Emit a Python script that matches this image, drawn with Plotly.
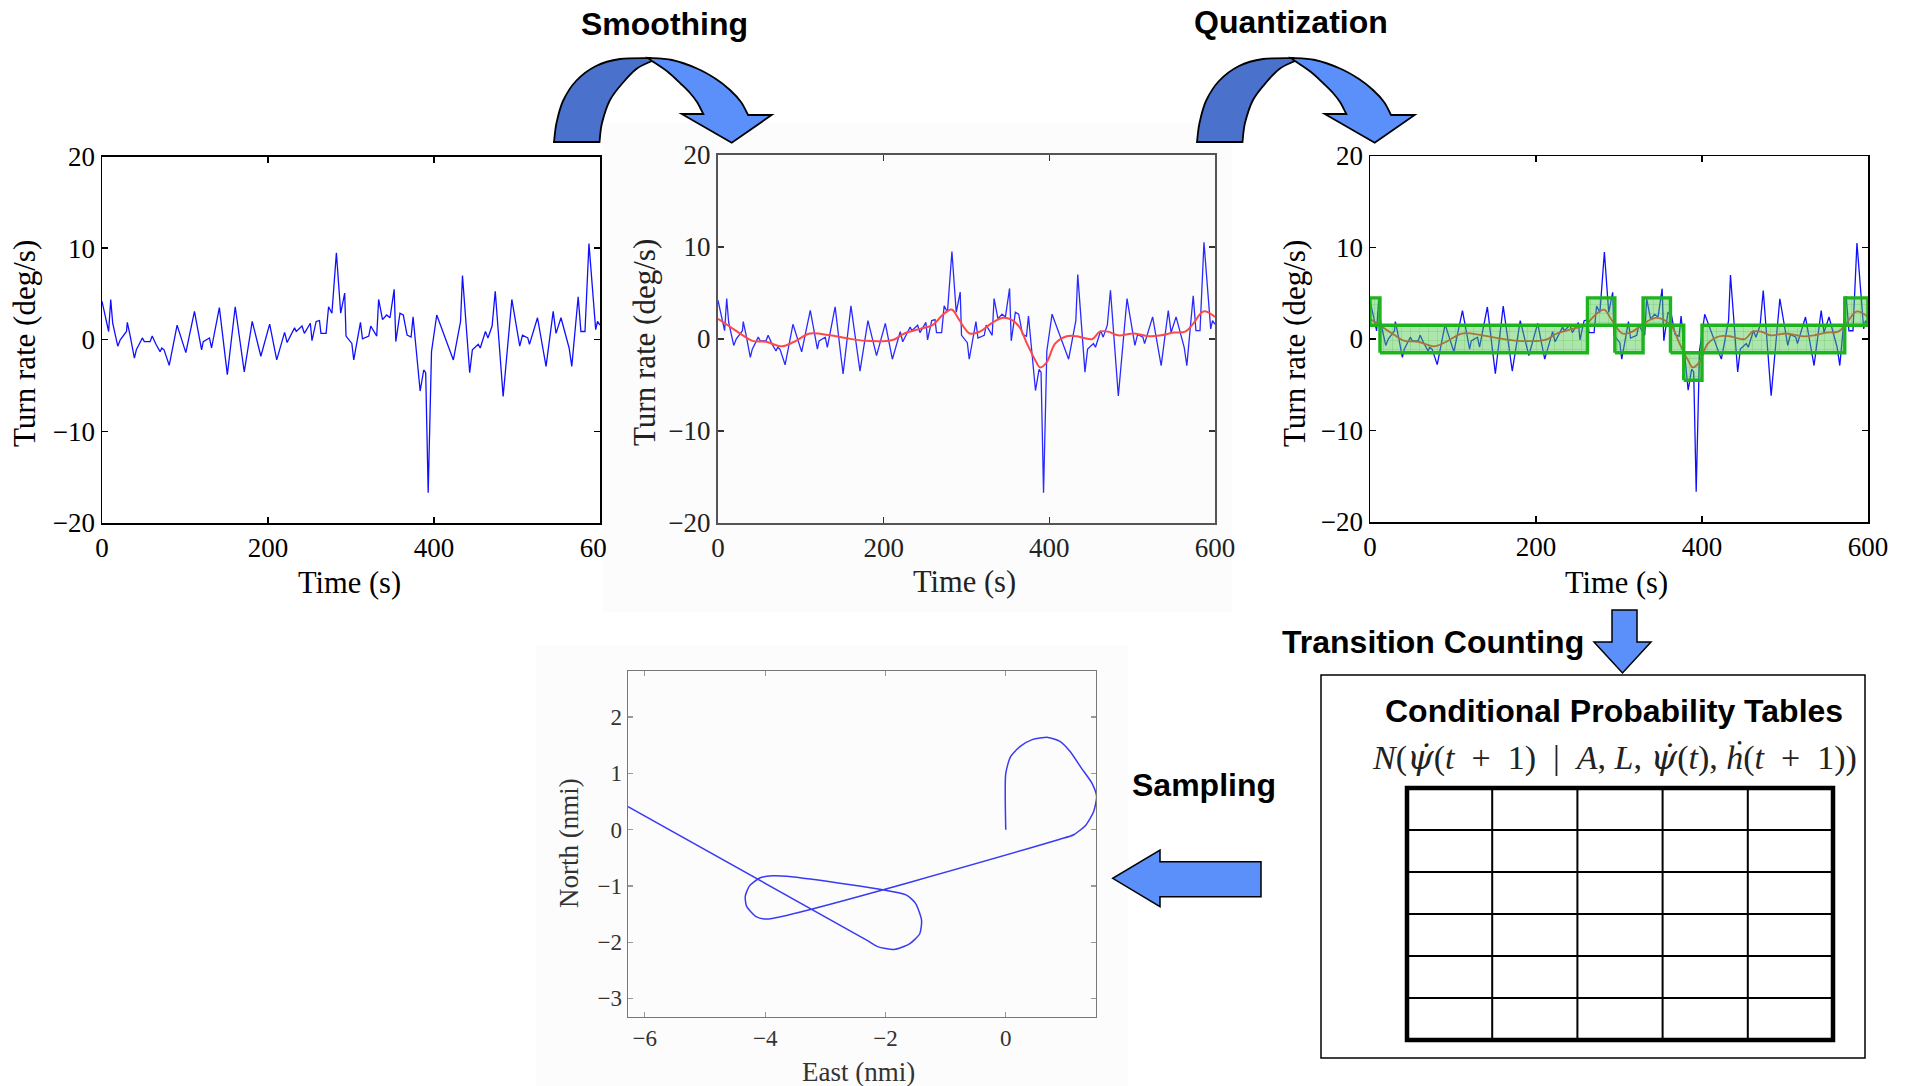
import plotly.graph_objects as go

W, H = 1909, 1086
SERIF = "Liberation Serif, Times New Roman, serif"
SANS = "Liberation Sans, Arial, sans-serif"

# ---------------- data ----------------
time_s = [0, 8, 10.5, 12.9, 19, 22, 29.5, 30.5, 34, 39, 41.4, 48.6, 51, 58, 60.5, 65, 70, 72, 74.8, 81,
          90.5, 101, 111.4, 120, 122, 129.5, 132, 141.4, 151, 160.5, 171.4, 181, 191.4, 202, 210.5, 220,
          223, 232, 234, 241, 243.8, 251, 253, 258, 262, 263.8, 270, 273, 277, 282.4, 287.6, 292.4, 294,
          301, 303.3, 311.4, 313.8, 321.4, 323.8, 331, 333.3, 338, 342.9, 347, 352, 354, 359, 363, 367.6,
          372.4, 374.8, 383.3, 387.6, 390, 393, 397, 403.3, 410.5, 423.3, 432, 434.3, 443, 446.2, 453.3,
          455.7, 462, 465, 470, 473.8, 483.3, 493.8, 503.3, 506.6, 513, 515, 524.7, 535, 543.6, 547, 553,
          558, 562.8, 566, 573.7, 577, 581.9, 586.7, 594.8, 597, 600]
turn_rate = [4.2, 0.9, 4.4, 1.8, -0.7, 0, 0.9, 1.9, 0.4, -2.0, -1.1, 0.2, -0.2, -0.2, 0.4, -0.5, -1.3, -0.9,
             -1.1, -2.8, 1.6, -1.4, 3.1, -1.1, -0.2, 0.2, -0.9, 3.5, -3.8, 3.6, -3.5, 2.0, -1.8, 1.7, -2.2,
             0.8, -0.3, 1.3, 0.9, 1.5, 0.7, 1.8, -0.1, 2.0, 2.1, 0.7, 0.7, 3.6, 2.9, 9.5, 2.9, 5.1, 0.4, -0.4,
             -2.2, 1.9, 0.1, 0.4, 1.5, 0.4, 4.4, 2.2, 2.7, 2.4, 5.5, -0.2, 2.9, 2.7, 0.5, 0.3, 2.5, -5.6,
             -3.3, -3.6, -16.7, -1.3, 2.7, 0.9, -2.2, 2.0, 7.0, -3.6, -1.1, -0.5, -0.9, 0.9, 0.2, 1.5, 5.3,
             -6.2, 4.4, -0.7, 0.5, 0.2, -0.5, 2.4, -2.9, 3.1, 0.7, 2.4, 0.7, -0.9, -2.9, 4.7, 0.9, 0.9, 10.5,
             1.1, 2.0, 1.6]

smooth_t = [0, 15, 30, 41.5, 58, 77, 92, 111, 135, 154, 178, 211, 225, 244, 259, 271, 282, 291, 304, 316,
            330, 344, 354, 364, 373, 383, 389, 397, 407, 421, 433, 442, 452, 461, 471, 483, 502, 521, 535,
            550, 564, 574, 586, 600]
smooth_rate = [2.2, 1.3, 0.4, -0.2, -0.3, -0.8, -0.3, 0.6, 0.4, 0.1, -0.2, -0.1, 0.6, 1.1, 1.5, 2.6, 3.2,
               2.1, 0.6, 0.8, 1.7, 2.3, 2.1, 1.3, -0.5, -2.3, -3.1, -2.5, -0.5, 0.3, 0.3, 0.1, 0, 0.8, 0.8,
               0.4, 0.6, 0.3, 0.4, 0.7, 0.8, 1.7, 3.0, 2.4]

seg_start = [0, 12, 262, 295, 329, 362, 378, 400, 572]
seg_end = [12, 262, 295, 329, 362, 378, 400, 572, 600]
seg_level = [3, 0, 3, 0, 3, 0, -3, 0, 3]
bin_half_width = 1.5

east_nmi = [0, 0, 0.08, 0.24, 0.44, 0.70, 0.90, 1.07, 1.26, 1.43, 1.51, 1.46, 1.33, 1.13, 0.90, -3.97,
            -4.16, -4.31, -4.33, -4.26, -4.09, -3.87, -3.64, -1.66, -1.50, -1.40, -1.43, -1.60, -1.86,
            -2.13, -2.32, -6.28]
north_nmi = [0, 1.0, 1.30, 1.48, 1.60, 1.64, 1.57, 1.39, 1.09, 0.83, 0.59, 0.32, 0.08, -0.09, -0.17,
             -1.59, -1.54, -1.36, -1.18, -1.00, -0.86, -0.82, -0.83, -1.16, -1.31, -1.61, -1.85, -2.03,
             -2.13, -2.08, -1.96, 0.41]

time_ticks = [0, 200, 400, 600]
time_ticktext = ["0", "200", "400", "600"]
time_ticktext_cut = ["0", "200", "400", "60\u00a0\u00a0"]
rate_ticks = [-20, -10, 0, 10, 20]
rate_ticktext = ["\u221220", "\u221210", "0", "10", "20"]
east_ticks = [-6, -4, -2, 0]
east_ticktext = ["\u22126", "\u22124", "\u22122", "0"]
north_ticks = [-3, -2, -1, 0, 1, 2]
north_ticktext = ["\u22123", "\u22122", "\u22121", "0", "1", "2"]

table_rows = 6
table_cols = 5

# ---------------- helpers (pixel -> paper) ----------------
def px(x):
    return x / W


def py(y):
    return 1 - y / H


def dom_x(a, b):
    return [px(a), px(b)]


def dom_y(top, bottom):
    return [py(bottom), py(top)]


def P(pt):
    return f"{px(pt[0]):.5f},{py(pt[1]):.5f}"


def curve(pts):
    """Catmull-Rom through pts (current point = pts[0]) as cubic bezier commands."""
    out = []
    n = len(pts)
    for i in range(n - 1):
        p0 = pts[i - 1] if i > 0 else pts[i]
        p1 = pts[i]
        p2 = pts[i + 1]
        p3 = pts[i + 2] if i + 2 < n else pts[i + 1]
        c1 = (p1[0] + (p2[0] - p0[0]) / 6, p1[1] + (p2[1] - p0[1]) / 6)
        c2 = (p2[0] - (p3[0] - p1[0]) / 6, p2[1] - (p3[1] - p1[1]) / 6)
        out.append(f"C{P(c1)} {P(c2)} {P(p2)}")
    return " ".join(out)


def shift(pts, dx, dy=0):
    return [(x + dx, y + dy) for x, y in pts]


# ---------------- figure ----------------
fig = go.Figure()

# plot 1 : raw turn rate
fig.add_trace(go.Scatter(x=time_s, y=turn_rate, mode="lines", line=dict(color="#1010ff", width=1.3),
                         xaxis="x", yaxis="y", hoverinfo="skip"))
# plot 2 : raw + smoothed
fig.add_trace(go.Scatter(x=time_s, y=turn_rate, mode="lines", line=dict(color="#2a2aff", width=1.3),
                         xaxis="x2", yaxis="y2", hoverinfo="skip"))
fig.add_trace(go.Scatter(x=smooth_t, y=smooth_rate, mode="lines", line=dict(color="#ff4848", width=2, shape="spline"),
                         xaxis="x2", yaxis="y2", hoverinfo="skip"))
# plot 3 : raw + smoothed + quantization bins
fig.add_trace(go.Scatter(x=time_s, y=turn_rate, mode="lines", line=dict(color="#1010ff", width=1.3),
                         xaxis="x3", yaxis="y3", hoverinfo="skip"))
fig.add_trace(go.Scatter(x=smooth_t, y=smooth_rate, mode="lines", line=dict(color="#ff3030", width=1.8, shape="spline"),
                         xaxis="x3", yaxis="y3", hoverinfo="skip"))
for t0, t1, lev in zip(seg_start, seg_end, seg_level):
    lo, hi = lev - bin_half_width, lev + bin_half_width
    fig.add_trace(go.Scatter(
        x=[t0, t1, t1, t0, t0], y=[lo, lo, hi, hi, lo], mode="lines", fill="toself",
        fillcolor="rgba(60,200,60,0.45)",
        fillpattern=dict(shape="+", bgcolor="rgba(70,200,70,0.45)", fgcolor="rgba(20,150,20,0.55)",
                         size=9, solidity=0.12),
        line=dict(color="#1db41d", width=3.4), xaxis="x3", yaxis="y3", hoverinfo="skip"))
# plot 4 : sampled trajectory
fig.add_trace(go.Scatter(x=east_nmi, y=north_nmi, mode="lines",
                         line=dict(color="#3a3af5", width=1.5, shape="spline", smoothing=0.6),
                         xaxis="x4", yaxis="y4", hoverinfo="skip"))


def axis(dom, rng, vals, text, anchor, line_color="black", line_w=1.5, fs=27, fcolor="black",
         tlen=6, tcolor="black"):
    return dict(domain=dom, range=rng, tickvals=vals, ticktext=text, anchor=anchor,
                showline=True, linecolor=line_color, linewidth=line_w, mirror="ticks",
                ticks="inside", ticklen=tlen, tickcolor=tcolor, tickwidth=1.3,
                showgrid=False, zeroline=False, fixedrange=True, automargin=False,
                tickfont=dict(family=SERIF, size=fs, color=fcolor))


layout = dict(
    width=W, height=H, autosize=False,
    margin=dict(l=0, r=0, t=0, b=0, pad=0, autoexpand=False),
    paper_bgcolor="white", plot_bgcolor="white", showlegend=False,
    xaxis=axis(dom_x(102, 600), [0, 600], time_ticks, time_ticktext_cut, "y"),
    yaxis=axis(dom_y(156.5, 523), [-20, 20], rate_ticks, rate_ticktext, "x"),
    xaxis2=axis(dom_x(718, 1215), [0, 600], time_ticks, time_ticktext, "y2", "#555", 2, 27, "#222", 6, "#333"),
    yaxis2=axis(dom_y(155, 523), [-20, 20], rate_ticks, rate_ticktext, "x2", "#555", 2, 27, "#222", 6, "#333"),
    xaxis3=axis(dom_x(1370, 1868), [0, 600], time_ticks, time_ticktext, "y3"),
    yaxis3=axis(dom_y(156, 522), [-20, 20], rate_ticks, rate_ticktext, "x3"),
    xaxis4=axis(dom_x(628, 1096), [-6.28, 1.5], east_ticks, east_ticktext, "y4", "#777", 1.3, 23, "#333", 5, "#999"),
    yaxis4=axis(dom_y(671, 1017), [-3.33, 2.82], north_ticks, north_ticktext, "x4", "#777", 1.3, 23, "#333", 5, "#999"),
)
fig.update_layout(**layout)

# ---------------- annotations ----------------
ann = []


def text(x, y, s, size, family=SERIF, color="black", angle=0):
    ann.append(dict(x=px(x), y=py(y), xref="paper", yref="paper", text=s, showarrow=False,
                    xanchor="center", yanchor="middle", textangle=angle,
                    font=dict(family=family, size=size, color=color)))


# axis titles
text(349, 583, "Time (s)", 30.5)
text(24, 344, "Turn rate (deg/s)", 31, angle=-90)
text(964, 582, "Time (s)", 30.5, color="#222")
text(644, 343, "Turn rate (deg/s)", 31, color="#222", angle=-90)
text(1616, 583, "Time (s)", 30.5)
text(1294, 344, "Turn rate (deg/s)", 31, angle=-90)
text(858, 1072, "East (nmi)", 27, color="#333")
text(569, 843, "North (nmi)", 27, color="#333", angle=-90)

# step labels
text(664, 24, "<b>Smoothing</b>", 32, SANS)
text(1291, 22, "<b>Quantization</b>", 32, SANS)
text(1433, 642, "<b>Transition Counting</b>", 32, SANS)
text(1204, 785, "<b>Sampling</b>", 32, SANS)
text(1614, 711, "<b>Conditional Probability Tables</b>", 32, SANS)
en = "\u2002"
psi_dot = "<span style=\"font-family:DejaVu Serif\"><i>\u03c8\u0307</i></span>"
text(1614, 757,
     f"<i>N</i>({psi_dot}(<i>t</i>{en}+{en}1){en}|{en}<i>A</i>, <i>L</i>, {psi_dot}(<i>t</i>), "
     f"<i>\u1e23</i>(<i>t</i>{en}+{en}1))", 34, SERIF, "#222")

fig.update_layout(annotations=ann)

# ---------------- shapes ----------------
shapes = []
LIGHT = "#5b8ff9"
DARK = "#4a72cc"

# faint backgrounds of the pasted screenshots
shapes.append(dict(type="rect", xref="paper", yref="paper", x0=px(602), x1=px(1232), y0=py(612), y1=py(123),
                   fillcolor="#fcfcfc", line=dict(width=0), layer="below"))
shapes.append(dict(type="rect", xref="paper", yref="paper", x0=px(536), x1=px(1128), y0=py(1086), y1=py(645),
                   fillcolor="#fcfcfc", line=dict(width=0), layer="below"))

# curved arrows (Smoothing, Quantization)
dark_outer = [(554, 142), (556.5, 123), (563, 101), (576, 81), (596, 66), (620, 59), (650, 58)]
dark_inner = [(652, 61), (637, 68.5), (623.5, 82), (610, 100), (602, 123), (599.5, 142)]
light_outer = [(648, 58), (672, 60), (697, 68.5), (716, 79), (730, 90), (741, 102), (748, 115)]
light_head = [(771.7, 115), (731.7, 142.7), (681.7, 114), (703.3, 114)]
light_inner = [(703.3, 114), (697, 102), (690, 93), (681, 84), (668, 72), (652, 61)]

for dx in (0, 643):
    do, di = shift(dark_outer, dx), shift(dark_inner, dx)
    lo_, lh, li = shift(light_outer, dx), shift(light_head, dx), shift(light_inner, dx)
    path_dark = f"M{P(do[0])} {curve(do)} L{P(di[0])} {curve(di)} Z"
    path_light = (f"M{P(lo_[0])} {curve(lo_)} " + " ".join(f"L{P(p)}" for p in lh) +
                  f" {curve(li)} Z")
    shapes.append(dict(type="path", xref="paper", yref="paper", path=path_dark, fillcolor=DARK,
                       line=dict(color="black", width=1.8), layer="above"))
    shapes.append(dict(type="path", xref="paper", yref="paper", path=path_light, fillcolor=LIGHT,
                       line=dict(color="black", width=1.8), layer="above"))

# down arrow (Transition Counting)
down = [(1612, 610), (1637, 610), (1637, 642), (1651, 642), (1622.5, 673), (1594, 642), (1612, 642)]
shapes.append(dict(type="path", xref="paper", yref="paper",
                   path="M" + " L".join(P(p) for p in down) + " Z", fillcolor=LIGHT,
                   line=dict(color="black", width=1.5), layer="above"))
# left arrow (Sampling)
left = [(1261, 861.7), (1160, 861.7), (1160, 850), (1112.7, 878.3), (1160, 906.7), (1160, 896.7), (1261, 896.7)]
shapes.append(dict(type="path", xref="paper", yref="paper",
                   path="M" + " L".join(P(p) for p in left) + " Z", fillcolor=LIGHT,
                   line=dict(color="black", width=1.5), layer="above"))

# conditional probability table box
shapes.append(dict(type="rect", xref="paper", yref="paper", x0=px(1321), x1=px(1865), y0=py(1058), y1=py(675),
                   line=dict(color="black", width=1.5), fillcolor="rgba(0,0,0,0)", layer="above"))
tl, tr, tt, tb = 1407, 1833, 788, 1040
for i in range(1, table_cols):
    xx = tl + i * (tr - tl) / table_cols
    shapes.append(dict(type="line", xref="paper", yref="paper", x0=px(xx), x1=px(xx), y0=py(tb), y1=py(tt),
                       line=dict(color="black", width=2), layer="above"))
for j in range(1, table_rows):
    yy = tt + j * (tb - tt) / table_rows
    shapes.append(dict(type="line", xref="paper", yref="paper", x0=px(tl), x1=px(tr), y0=py(yy), y1=py(yy),
                       line=dict(color="black", width=2), layer="above"))
shapes.append(dict(type="rect", xref="paper", yref="paper", x0=px(tl), x1=px(tr), y0=py(tb), y1=py(tt),
                   line=dict(color="black", width=4.5), fillcolor="rgba(0,0,0,0)", layer="above"))

fig.update_layout(shapes=shapes)

fig.write_html("out.html",
               config={"responsive": False, "displayModeBar": False, "staticPlot": True},
               post_script="document.body.style.margin='0px';document.body.style.overflow='hidden';")
